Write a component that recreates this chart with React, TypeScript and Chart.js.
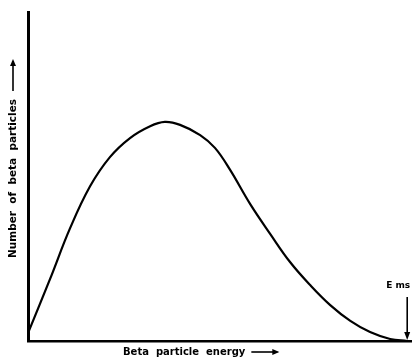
import React, { useEffect, useRef } from "react";
import { Chart, registerables } from "chart.js";

Chart.register(...registerables);

// Beta spectrum, energy normalized to E_max = 1, counts in arbitrary units (axis top = 100)
const energy = [0, 0.058, 0.111, 0.164, 0.216, 0.269, 0.322, 0.361, 0.401, 0.454, 0.493, 0.533, 0.586, 0.639, 0.691, 0.744, 0.797, 0.85, 0.902, 0.955, 1.0];
const counts = [2.4, 18.8, 34.3, 47.1, 55.9, 61.7, 65.3, 66.6, 65.7, 62.6, 58.7, 52.0, 41.6, 32.5, 24.0, 17.0, 10.9, 6.1, 2.7, 0.6, 0];

const xTitle = "Beta  particle  energy";
const yTitle = "Number  of  beta  particles";
const endLabel = "E ms";
const endEnergy = 1.0;

const annotations = {
  id: "annotations",
  afterDraw(chart: any) {
    const { ctx, chartArea, scales } = chart;
    ctx.save();
    ctx.fillStyle = "#000";
    ctx.strokeStyle = "#000";
    ctx.font = "bold 10px 'DejaVu Sans'";
    ctx.textBaseline = "middle";

    // x-axis title with arrow
    ctx.textAlign = "left";
    const xStart = 123;
    const ty = chartArea.bottom + 11;
    ctx.fillText(xTitle, xStart, ty);
    const w = ctx.measureText(xTitle).width;
    const ax0 = xStart + w + 6;
    const ax1 = ax0 + 26;
    ctx.lineWidth = 1.6;
    ctx.beginPath();
    ctx.moveTo(ax0, ty);
    ctx.lineTo(ax1, ty);
    ctx.stroke();
    ctx.beginPath();
    ctx.moveTo(ax1 + 2, ty);
    ctx.lineTo(ax1 - 5, ty - 3);
    ctx.lineTo(ax1 - 5, ty + 3);
    ctx.closePath();
    ctx.fill();

    // y-axis title with arrow (rotated)
    ctx.save();
    ctx.translate(13, 258);
    ctx.rotate(-Math.PI / 2);
    ctx.textAlign = "left";
    ctx.font = "bold 10.5px 'DejaVu Sans'";
    ctx.fillText(yTitle, 0, 0);
    const wy = ctx.measureText(yTitle).width;
    const b0 = wy + 8;
    const b1 = b0 + 30;
    ctx.beginPath();
    ctx.moveTo(b0, 0);
    ctx.lineTo(b1, 0);
    ctx.stroke();
    ctx.beginPath();
    ctx.moveTo(b1 + 2, 0);
    ctx.lineTo(b1 - 5, -3);
    ctx.lineTo(b1 - 5, 3);
    ctx.closePath();
    ctx.fill();
    ctx.restore();

    // E max marker
    const ex = scales.x.getPixelForValue(endEnergy);
    ctx.textAlign = "center";
    ctx.font = "bold 9px 'DejaVu Sans'";
    ctx.fillText(endLabel, ex - 9, 286);
    ctx.lineWidth = 1.6;
    ctx.beginPath();
    ctx.moveTo(ex, 297);
    ctx.lineTo(ex, chartArea.bottom - 6);
    ctx.stroke();
    ctx.beginPath();
    ctx.moveTo(ex, chartArea.bottom - 1);
    ctx.lineTo(ex - 3, chartArea.bottom - 9);
    ctx.lineTo(ex + 3, chartArea.bottom - 9);
    ctx.closePath();
    ctx.fill();
    ctx.restore();
  },
};

export default function App() {
  const ref = useRef<HTMLCanvasElement>(null);
  useEffect(() => {
    if (!ref.current) return;
    const chart = new Chart(ref.current, {
      type: "line",
      data: {
        datasets: [
          {
            data: energy.map((e, i) => ({ x: e, y: counts[i] })),
            borderColor: "#000",
            borderWidth: 2.2,
            pointRadius: 0,
            tension: 0.4,
            fill: false,
          },
        ],
      },
      options: {
        animation: false,
        responsive: false,
        layout: { padding: { left: 0, right: 1, top: 12, bottom: 0 } },
        plugins: { legend: { display: false }, tooltip: { enabled: false } },
        scales: {
          x: {
            type: "linear",
            min: 0,
            max: 1.01,
            grid: { display: false },
            ticks: { display: false },
            border: { display: true, color: "#000", width: 2.5 },
            afterFit: (s: any) => {
              s.height = 20;
            },
          },
          y: {
            min: 0,
            max: 100,
            grid: { display: false },
            ticks: { display: false },
            border: { display: true, color: "#000", width: 3 },
            afterFit: (s: any) => {
              s.width = 28;
            },
          },
        },
      },
      plugins: [annotations],
    });
    return () => chart.destroy();
  }, []);
  return (
    <div style={{ position: "fixed", left: 0, top: 0, width: 412, height: 361, background: "#fff" }}>
      <canvas ref={ref} width={412} height={361} style={{ width: 412, height: 361 }} />
    </div>
  );
}
